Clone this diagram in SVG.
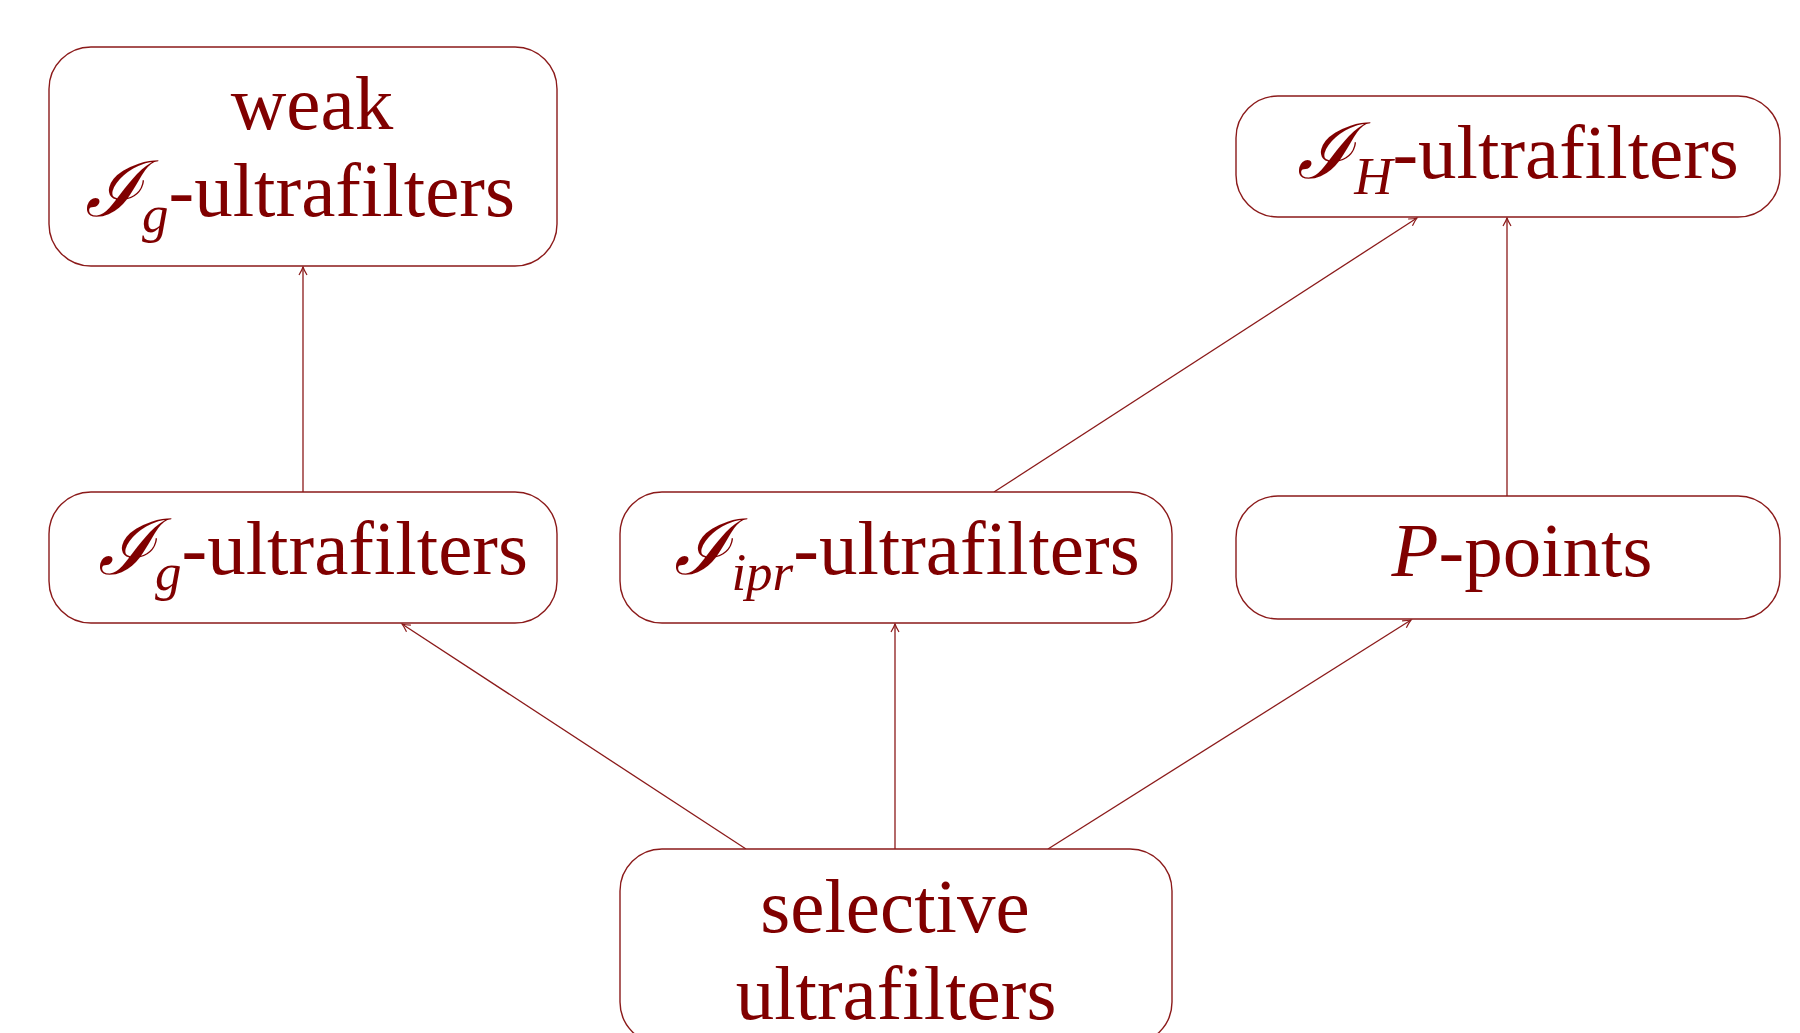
<svg xmlns="http://www.w3.org/2000/svg" width="1800" height="1033" viewBox="0 0 1800 1033">
<defs>
<style>
.box{fill:#fff;stroke:#8b1a1a;stroke-width:1.4}
.lbl{font-family:"Liberation Serif","DejaVu Serif",serif;font-size:77px;fill:#800000;text-anchor:middle}
.cal{font-family:"DejaVu Serif","Liberation Serif",serif;font-style:italic}
.sub{font-style:italic;font-size:53px}
.edge{stroke:#8b1a1a;stroke-width:1.3;fill:none;marker-end:url(#arr)}
</style>
<marker id="arr" viewBox="-10 -6 12 12" markerWidth="12" markerHeight="12" refX="0" refY="0" orient="auto" markerUnits="userSpaceOnUse">
<path d="M-8,-4 Q-3,-1 0,0 Q-3,1 -8,4" fill="none" stroke="#8b1a1a" stroke-width="1.2"/>
</marker>
</defs>
<rect width="1800" height="1033" fill="#fff"/>
<g id="connectors">
<line class="edge" x1="303" y1="492" x2="303" y2="267"/>
<line class="edge" x1="994" y1="492" x2="1417" y2="218"/>
<line class="edge" x1="1507" y1="496" x2="1507" y2="218"/>
<line class="edge" x1="746" y1="849" x2="402" y2="624"/>
<line class="edge" x1="895" y1="849" x2="895" y2="624"/>
<line class="edge" x1="1048" y1="849" x2="1411" y2="620"/>
</g>
<g id="node-weak">
<rect class="box" x="49" y="47" width="508" height="219" rx="42"/>
<text class="lbl" x="312" y="129">weak</text>
<text class="lbl" x="300" y="216"><tspan class="cal">ℐ</tspan><tspan class="sub" dy="16">g</tspan><tspan dy="-16">-ultrafilters</tspan></text>
</g>
<g id="node-IH">
<rect class="box" x="1236" y="96" width="544" height="121" rx="42"/>
<text class="lbl" x="1518" y="178"><tspan class="cal">ℐ</tspan><tspan class="sub" dy="16">H</tspan><tspan dy="-16">-ultrafilters</tspan></text>
</g>
<g id="node-Ig">
<rect class="box" x="49" y="492" width="508" height="131" rx="42"/>
<text class="lbl" x="313" y="574"><tspan class="cal">ℐ</tspan><tspan class="sub" dy="16">g</tspan><tspan dy="-16">-ultrafilters</tspan></text>
</g>
<g id="node-Iipr">
<rect class="box" x="620" y="492" width="552" height="131" rx="42"/>
<text class="lbl" x="907" y="574"><tspan class="cal">ℐ</tspan><tspan class="sub" dy="16">ipr</tspan><tspan dy="-16">-ultrafilters</tspan></text>
</g>
<g id="node-P">
<rect class="box" x="1236" y="496" width="544" height="123" rx="42"/>
<text class="lbl" x="1522" y="576"><tspan font-style="italic">P</tspan>-points</text>
</g>
<g id="node-selective">
<rect class="box" x="620" y="849" width="552" height="195" rx="42"/>
<text class="lbl" x="895" y="932">selective</text>
<text class="lbl" x="896" y="1019">ultrafilters</text>
</g>
</svg>
